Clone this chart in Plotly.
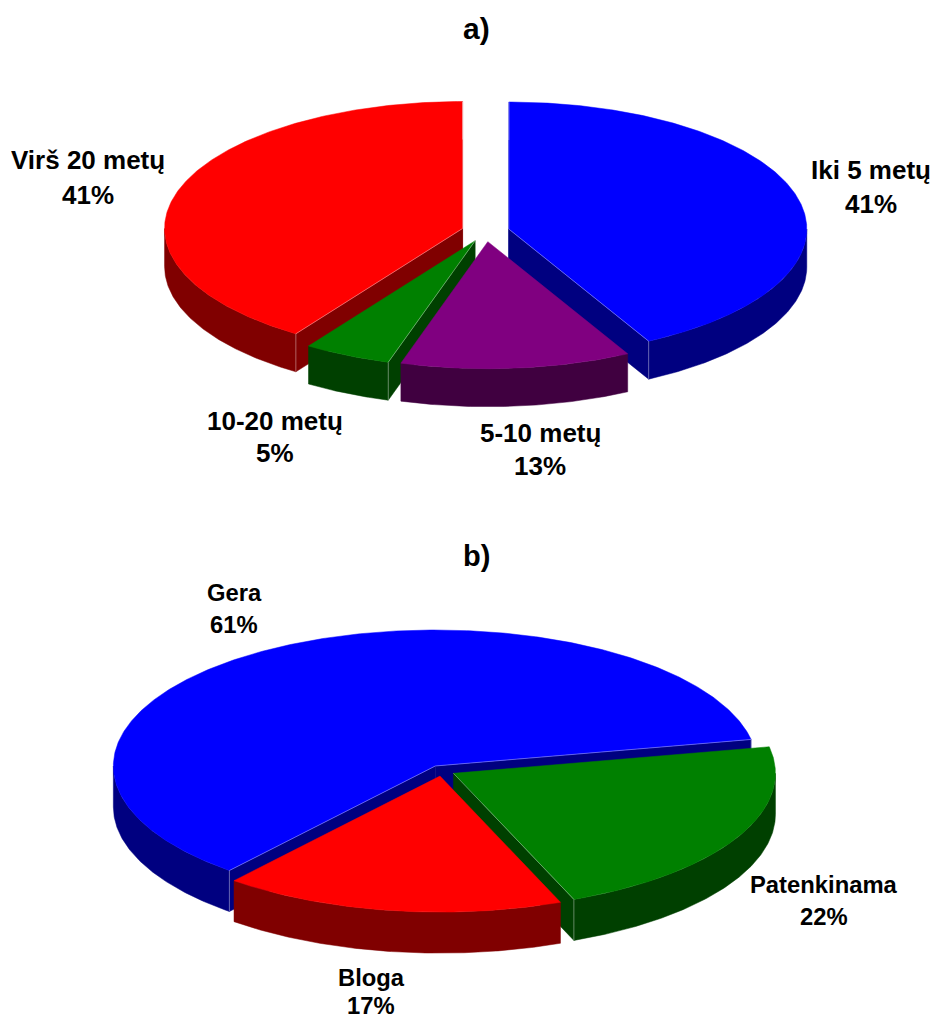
import math
import plotly.graph_objects as go

# Years of service, chart a)
a_categories = ["Iki 5 metų", "5-10 metų", "10-20 metų", "Virš 20 metų"]
a_values = [41, 13, 5, 41]
a_tops = ["#0000FF", "#800080", "#008000", "#FF0000"]
a_sides = ["#000080", "#400040", "#004000", "#800000"]

# Condition rating, chart b)
b_categories = ["Patenkinama", "Bloga", "Gera"]
b_values = [22, 17, 61]
b_tops = ["#008000", "#FF0000", "#0000FF"]
b_sides = ["#004000", "#800000", "#000080"]

# Label anchor centres (x, first line y, second line y), in page pixels
a_label_pos = [(871, 170, 204), (540, 433, 466), (275, 421, 453), (88, 160, 195)]
b_label_pos = [(824, 884, 916), (371, 977, 1005.5), (234, 592, 624)]

W, H = 934, 1019
FONT = "Liberation Sans, Arial, sans-serif"
EDGE = "rgba(255,255,255,0.5)"


def pie3d(fig, values, tops, sides, cx, cy, rx, ry, depth, explode, start=0.0, skew=(0.0, 0.0)):
    """Draw an exploded tilted pie. Angles run clockwise from 12 o'clock."""

    def view(t):
        # Camera skew: shifts the projected angle, fixed at 12 o'clock
        r = math.radians(t)
        return t + skew[0] * (1 - math.cos(r)) + skew[1] * math.sin(r)

    total = sum(values)
    slices, acc = [], start
    for i, v in enumerate(values):
        sweep = 360.0 * v / total
        t0, t1 = view(acc), view(acc + sweep)
        slices.append((i, t0, t1))
        acc += sweep

    def rim(ax, ay, t):
        r = math.radians(t)
        return ax + rx * math.sin(r), ay - ry * math.cos(r)

    def poly(pts, color, line=None, closed=True):
        xs = [p[0] for p in pts]
        ys = [p[1] for p in pts]
        if closed:
            fig.add_trace(go.Scatter(x=xs + xs[:1], y=ys + ys[:1], mode="lines", fill="toself",
                                     fillcolor=color, line=dict(width=0.5, color=color),
                                     hoverinfo="skip"))
        else:
            fig.add_trace(go.Scatter(x=xs, y=ys, mode="lines", line=dict(width=0.7, color=line),
                                     hoverinfo="skip"))

    # Slices further back are painted first
    slices.sort(key=lambda s: -math.cos(math.radians((s[1] + s[2]) / 2)))

    for i, t0, t1 in slices:
        mid = math.radians((t0 + t1) / 2)
        ax = cx + explode * math.sin(mid)
        ay = cy - explode * (ry / rx) * math.cos(mid)
        edges = []

        # Radial cut faces that turn towards the viewer
        s0, s1 = math.sin(math.radians(t0)), math.sin(math.radians(t1))
        if s0 <= 1e-9:
            edges.append(t0)
        if s1 >= -1e-9:
            edges.append(t1)
        for t in edges:
            px, py = rim(ax, ay, t)
            poly([(ax, ay), (px, py), (px, py + depth), (ax, ay + depth)], sides[i])

        # Outer wall: only the part on the near half of the rim
        for k in (0, 360):
            lo, hi = max(t0, 90 + k), min(t1, 270 + k)
            if hi > lo:
                n = max(2, int((hi - lo) * 2))
                arc = [rim(ax, ay, lo + (hi - lo) * j / n) for j in range(n + 1)]
                poly(arc + [(x, y + depth) for x, y in reversed(arc)], sides[i])

        # Top face
        n = max(2, int((t1 - t0) * 2))
        poly([(ax, ay)] + [rim(ax, ay, t0 + (t1 - t0) * j / n) for j in range(n + 1)], tops[i])

        # Pale highlight along visible cut edges and their corner
        for t in edges:
            px, py = rim(ax, ay, t)
            poly([(ax, ay), (px, py), (px, py + depth)], None, line=EDGE, closed=False)


def label(fig, text, x, y, size):
    fig.add_annotation(x=x, y=y, text=f"<b>{text}</b>", showarrow=False, xanchor="center",
                       yanchor="middle", font=dict(family=FONT, size=size, color="#000000"))


fig = go.Figure()
pie3d(fig, a_values, a_tops, a_sides, cx=485.5, cy=231.5, rx=298, ry=127, depth=38,
      explode=24, start=0, skew=(1.63, 2.61))
pie3d(fig, b_values, b_tops, b_sides, cx=442, cy=770.7, rx=322, ry=136, depth=41,
      explode=13, start=79.4, skew=(-0.2, -0.5))

label(fig, "a)", 476, 28, 30)
label(fig, "b)", 476, 556, 29)
for name, value, (x, y1, y2) in zip(a_categories, a_values, a_label_pos):
    label(fig, name, x, y1, 26)
    label(fig, f"{value}%", x, y2, 26)
for name, value, (x, y1, y2) in zip(b_categories, b_values, b_label_pos):
    label(fig, name, x, y1, 23.8)
    label(fig, f"{value}%", x, y2, 23.8)

fig.update_layout(
    width=W, height=H, margin=dict(l=0, r=0, t=0, b=0), showlegend=False,
    paper_bgcolor="#FFFFFF", plot_bgcolor="#FFFFFF",
    xaxis=dict(range=[0, W], visible=False, fixedrange=True),
    yaxis=dict(range=[H, 0], visible=False, fixedrange=True),
)
fig.write_html("out.html", config=dict(displayModeBar=False))
